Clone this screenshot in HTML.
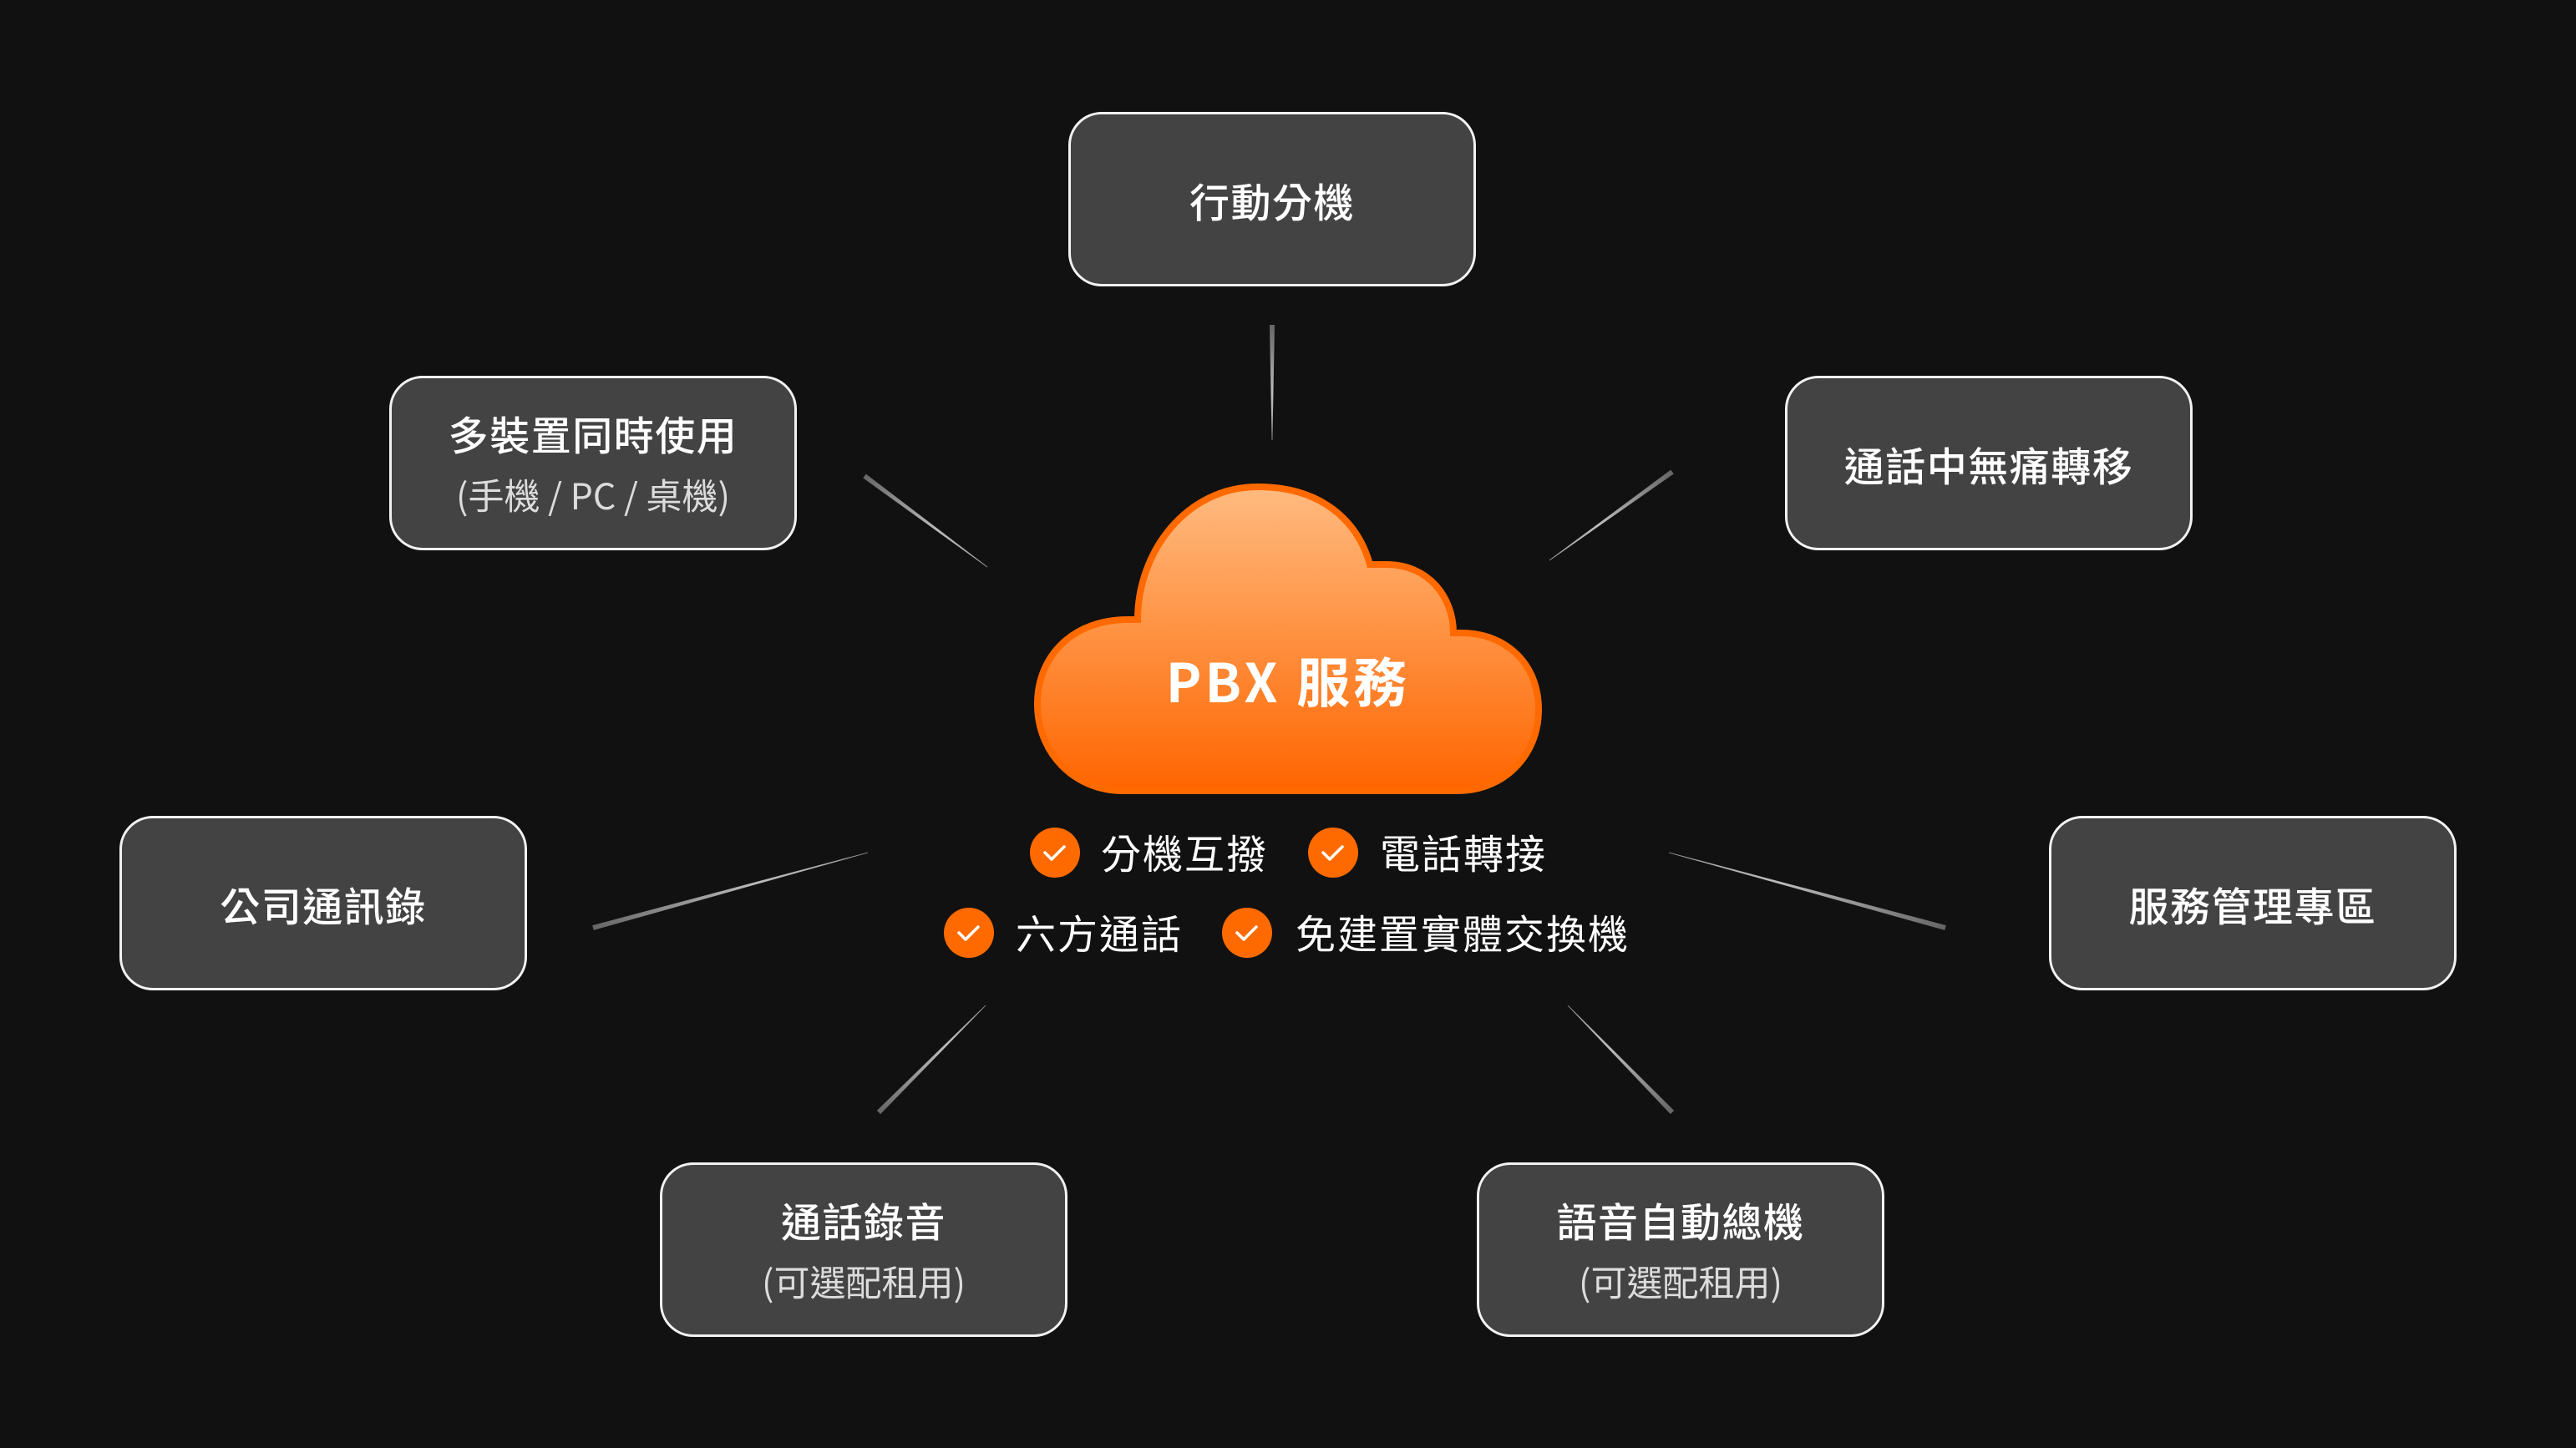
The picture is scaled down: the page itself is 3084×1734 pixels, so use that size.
<!DOCTYPE html>
<html><head><meta charset="utf-8"><style>
html,body{margin:0;padding:0;background:#111;}
body{width:3084px;height:1734px;overflow:hidden;position:relative;font-family:"Noto Sans CJK TC","Liberation Sans",sans-serif;}
.b{position:absolute;width:482px;height:203px;background:#434343;border:3px solid #f2f2f2;border-radius:40px;color:#fff;display:flex;flex-direction:column;align-items:center;justify-content:center;box-sizing:content-box;}
.t{font-size:48px;line-height:60px;font-weight:500;letter-spacing:1.5px;}
.s{font-size:43px;line-height:60px;color:#dcdcdc;margin-top:14px;}
.c{position:absolute;font-size:48px;color:#fff;line-height:60px;letter-spacing:2px;}
</style></head><body>
<svg width="3084" height="1734" style="position:absolute;left:0;top:0">
<defs>
<linearGradient id="cg" x1="0" y1="0" x2="0" y2="1"><stop offset="0" stop-color="#ffbb80"/><stop offset="1" stop-color="#ff6500"/></linearGradient>
</defs>
<g id="lines"></g>
<path d="M1345,947 C1285,947 1242,901 1242,843 C1242,785 1285,742 1350,742 L1362,742 C1362,661 1420,583 1506,583 C1580,583 1625,622 1640,676 L1660,676 C1710,676 1740,715 1740,758 L1750,758 C1800,758 1842,792 1842,850 C1842,905 1800,947 1745,947 Z" fill="url(#cg)" stroke="#ff6a00" stroke-width="8"/>
<text x="1542" y="841" font-size="64" font-weight="bold" fill="#fff" text-anchor="middle" letter-spacing="4" font-family="Noto Sans CJK TC, Liberation Sans, sans-serif">PBX 服務</text>
<g fill="#ff6a00">
<circle cx="1263" cy="1021" r="30"/><circle cx="1596" cy="1021" r="30"/>
<circle cx="1160" cy="1117" r="30"/><circle cx="1493" cy="1117" r="30"/>
</g>
<g fill="none" stroke="#fff" stroke-width="3.5" stroke-linecap="round" stroke-linejoin="round">
<path d="M1251,1021 l8,8 l15,-15"/><path d="M1584,1021 l8,8 l15,-15"/>
<path d="M1148,1117 l8,8 l15,-15"/><path d="M1481,1117 l8,8 l15,-15"/>
</g>
</svg>
<div class="c" style="left:1318px;top:989px">分機互撥</div>
<div class="c" style="left:1652px;top:989px">電話轉接</div>
<div class="c" style="left:1216px;top:1085px">六方通話</div>
<div class="c" style="left:1551px;top:1085px">免建置實體交換機</div>

<div class="b" style="left:1279px;top:134px"><div class="t">行動分機</div></div>
<div class="b" style="left:466px;top:450px"><div class="t">多裝置同時使用</div><div class="s">(手機 / PC / 桌機)</div></div>
<div class="b" style="left:2137px;top:450px"><div class="t">通話中無痛轉移</div></div>
<div class="b" style="left:143px;top:977px"><div class="t">公司通訊錄</div></div>
<div class="b" style="left:2453px;top:977px"><div class="t">服務管理專區</div></div>
<div class="b" style="left:790px;top:1392px"><div class="t">通話錄音</div><div class="s">(可選配租用)</div></div>
<div class="b" style="left:1768px;top:1392px"><div class="t">語音自動總機</div><div class="s">(可選配租用)</div></div>
<script>
var L=[[1523,389,1523,527],[1035,570,1182,679],[2002,565,1855,671],[710,1111,1039,1021],[2329,1111,1998,1021],[1052,1332,1180,1204],[2002,1332,1877,1204]];
var g=document.getElementById('lines'),defs=document.querySelector('defs'),ns='http://www.w3.org/2000/svg';
L.forEach(function(l,i){
var gr=document.createElementNS(ns,'linearGradient');gr.id='lg'+i;gr.setAttribute('gradientUnits','userSpaceOnUse');
gr.setAttribute('x1',l[0]);gr.setAttribute('y1',l[1]);gr.setAttribute('x2',l[2]);gr.setAttribute('y2',l[3]);
gr.innerHTML='<stop offset="0" stop-color="#666"/><stop offset="0.6" stop-color="#bbb"/><stop offset="1" stop-color="#eee" stop-opacity="0.6"/>';
defs.appendChild(gr);
var dx=l[2]-l[0],dy=l[3]-l[1],len=Math.sqrt(dx*dx+dy*dy),nx=-dy/len,ny=dx/len,w=3,w2=0.4;
var p=document.createElementNS(ns,'polygon');
p.setAttribute('points',[(l[0]+nx*w)+','+(l[1]+ny*w),(l[2]+nx*w2)+','+(l[3]+ny*w2),(l[2]-nx*w2)+','+(l[3]-ny*w2),(l[0]-nx*w)+','+(l[1]-ny*w)].join(' '));
p.setAttribute('fill','url(#lg'+i+')');g.appendChild(p);
});
</script>
</body></html>
